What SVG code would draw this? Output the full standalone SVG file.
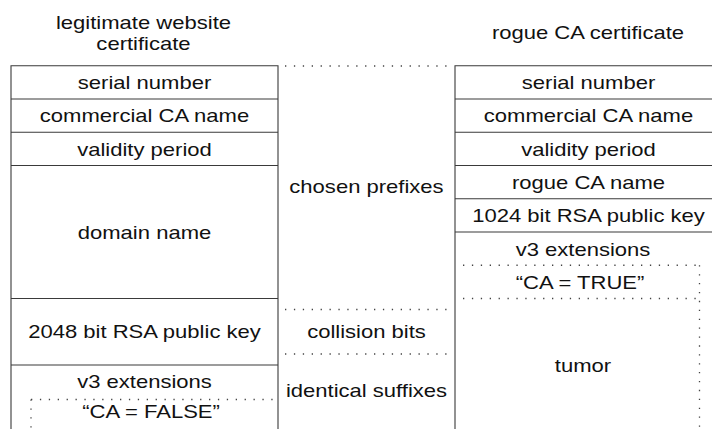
<svg xmlns="http://www.w3.org/2000/svg" width="712" height="429" viewBox="0 0 712 429">
<style>
text{font-family:"Liberation Sans",Arial,sans-serif;font-size:19px;fill:#111;text-anchor:middle}
.box{fill:none;stroke:#3a3a3a;stroke-width:1.1}
.sep{stroke:#3a3a3a;stroke-width:1.1;fill:none}
.dot{stroke:#444;stroke-width:1.3;stroke-dasharray:1.3 7.6;fill:none}
</style>
<rect width="712" height="429" fill="#fff"/>
<g id="headings">
<text transform="translate(143.5,29) scale(1.16,1)">legitimate website</text>
<text transform="translate(143.5,50) scale(1.16,1)">certificate</text>
<text transform="translate(588,39) scale(1.16,1)">rogue CA certificate</text>
</g>
<g id="legit-cert">
<path class="box" d="M11,440 V65.75 H278 V440"/>
<g id="l-serial"><path class="sep" d="M11,99 H278"/><text transform="translate(144.5,89) scale(1.16,1)">serial number</text></g>
<g id="l-ca-name"><path class="sep" d="M11,132.25 H278"/><text transform="translate(144.5,122.3) scale(1.16,1)">commercial CA name</text></g>
<g id="l-validity"><path class="sep" d="M11,165.5 H278"/><text transform="translate(144.5,155.6) scale(1.16,1)">validity period</text></g>
<g id="l-domain"><path class="sep" d="M11,298.5 H278"/><text transform="translate(144.5,238.7) scale(1.16,1)">domain name</text></g>
<g id="l-key"><path class="sep" d="M11,365 H278"/><text transform="translate(144.5,338.4) scale(1.16,1)">2048 bit RSA public key</text></g>
<g id="l-v3"><text transform="translate(144.5,388.3) scale(1.16,1)">v3 extensions</text></g>
<g id="l-ca-false"><path class="dot" d="M31,399.5 H277 M31,399.5 V432"/><text transform="translate(151,418) scale(1.16,1)">“CA = FALSE”</text></g>
</g>
<g id="rogue-cert">
<path class="box" d="M455,440 V65.75 H722"/>
<g id="r-serial"><path class="sep" d="M455,99 H722"/><text transform="translate(588.5,89) scale(1.16,1)">serial number</text></g>
<g id="r-ca-name"><path class="sep" d="M455,132.25 H722"/><text transform="translate(588.5,122.3) scale(1.16,1)">commercial CA name</text></g>
<g id="r-validity"><path class="sep" d="M455,165.5 H722"/><text transform="translate(588.5,155.6) scale(1.16,1)">validity period</text></g>
<g id="r-rogue-name"><path class="sep" d="M455,198.75 H722"/><text transform="translate(588.5,188.9) scale(1.16,1)">rogue CA name</text></g>
<g id="r-key"><path class="sep" d="M455,232 H722"/><text transform="translate(588.5,222.1) scale(1.16,1)">1024 bit RSA public key</text></g>
<g id="r-v3"><text transform="translate(583,255.6) scale(1.16,1)">v3 extensions</text></g>
<g id="r-ca-true"><path class="dot" d="M463,265.25 H700 M463,298.5 H700 M699.5,265.25 V432"/><text transform="translate(580,288.6) scale(1.16,1)">“CA = TRUE”</text></g>
<g id="r-tumor"><text transform="translate(583,371.7) scale(1.16,1)">tumor</text></g>
</g>
<g id="middle">
<g id="m-prefixes"><text transform="translate(366.5,193.3) scale(1.16,1)">chosen prefixes</text></g>
<g id="m-collision"><text transform="translate(366.5,338.4) scale(1.16,1)">collision bits</text></g>
<g id="m-suffixes"><text transform="translate(366.5,396.7) scale(1.16,1)">identical suffixes</text></g>
</g>
<g id="connectors">
<path class="dot" d="M285,66 H452 M285,309.5 H452 M285,354 H452"/>
</g>
</svg>
